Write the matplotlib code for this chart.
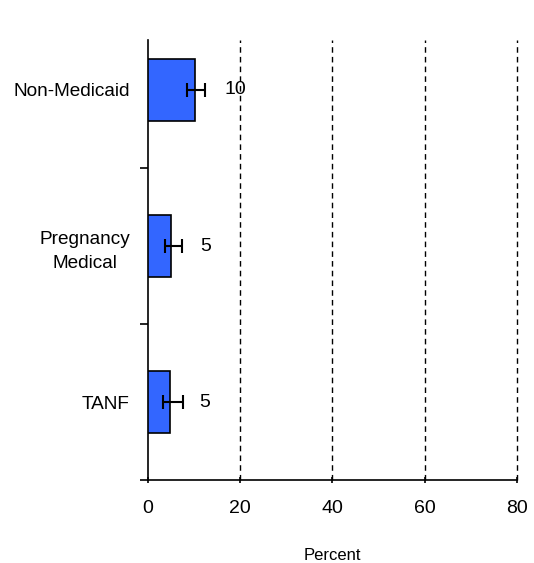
import matplotlib
matplotlib.use("Agg")
import matplotlib.pyplot as plt
import numpy as np

plt.rcParams["font.family"] = ["Liberation Sans", "DejaVu Sans"]

categories = ["TANF", "Pregnancy\nMedical", "Non-Medicaid"]
values = [4.8, 5.1, 10.2]
err_low = [1.5, 1.5, 1.7]
err_high = [2.7, 2.3, 2.2]
labels = ["5", "5", "10"]

fig = plt.figure(figsize=(5.34, 5.63), dpi=100)
ax = fig.add_axes([0.277, 0.147, 0.691, 0.782])

y = np.arange(len(categories))
ax.barh(y, values, height=0.4, color="#3366ff", edgecolor="black", linewidth=1.2, zorder=3)
ax.errorbar(values, y, xerr=[err_low, err_high], fmt="none", ecolor="black",
            elinewidth=1.5, capsize=5, capthick=1.5, zorder=4)
for yi, v, lab in zip(y, values, labels):
    ax.text(v + 6.3, yi, lab, va="center", ha="left", fontsize=14)

ax.set_xlim(0, 80)
ax.set_ylim(-0.5, 2.32)
ax.set_xticks([0, 20, 40, 60, 80])
ax.set_yticks(y)
ax.set_yticklabels(categories, fontsize=13.7, ha="right", multialignment="center",
                   linespacing=1.5)
ax.tick_params(axis="y", length=0, pad=13)
ax.set_yticks([-0.5, 0.5, 1.5], minor=True)
ax.tick_params(axis="y", which="minor", length=6, width=1.2, direction="out")
ax.tick_params(axis="x", length=5, width=1.2, direction="inout", labelsize=14, pad=12)

for xv in [20, 40, 60, 80]:
    ax.axvline(xv, color="black", linestyle=(0, (4, 3)), linewidth=1, zorder=1, clip_on=False)

for s in ["top", "right"]:
    ax.spines[s].set_visible(False)
for s in ["left", "bottom"]:
    ax.spines[s].set_linewidth(1.2)

ax.set_xlabel("Percent", fontsize=12, labelpad=22)

fig.savefig("out.png", dpi=100)
